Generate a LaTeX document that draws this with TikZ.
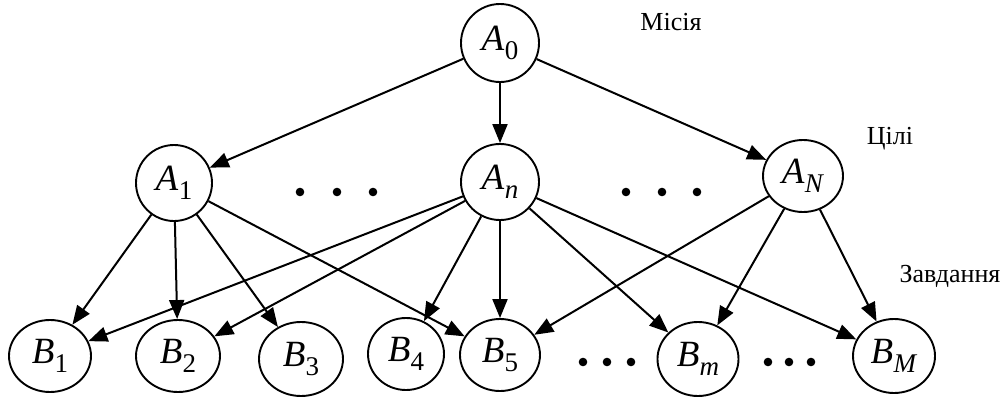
\documentclass[tikz,border=0pt]{standalone}
\usepackage{fontspec}
\setmainfont{Liberation Serif}
\usetikzlibrary{arrows.meta,shapes.geometric}
\newcommand\lbl[2]{\textit{#1}\kern0.01em\raisebox{-0.24em}{\fontsize{27}{27}\selectfont #2}}
\tikzset{
  vert/.style={draw,ellipse,line width=1.9pt,inner sep=0pt,font=\fontsize{37}{37}\selectfont},
  edge/.style={line width=2pt,-{Triangle[length=19pt,width=15pt]}},
  level/.style={font=\fontsize{26}{26}\selectfont,inner sep=0pt},
  dotmark/.style={fill=black}
}
\begin{document}
\begin{tikzpicture}[x=1pt,y=-1pt]
\useasboundingbox (0,0) rectangle (1002,399);
% top
\node[vert,minimum width=78pt,minimum height=78pt] (A0) at (500,43) {\lbl{A}{0}};
% middle
\node[vert,minimum width=76pt,minimum height=76pt] (A1) at (174,183) {\lbl{A}{1}};
\node[vert,minimum width=78pt,minimum height=76pt] (An) at (500,182) {\lbl{A}{\textit{n}}};
\node[vert,minimum width=80pt,minimum height=72pt] (AN) at (803,176) {\lbl{A}{\textit{N}}};
% bottom
\node[vert,minimum width=82pt,minimum height=72pt] (B1) at (50,356) {\lbl{B}{1}};
\node[vert,minimum width=84pt,minimum height=72pt] (B2) at (178,356) {\lbl{B}{2}};
\node[vert,minimum width=84pt,minimum height=74pt] (B3) at (301,359) {\lbl{B}{3}};
\node[vert,minimum width=76pt,minimum height=72pt] (B4) at (406,354) {\lbl{B}{4}};
\node[vert,minimum width=80pt,minimum height=72pt] (B5) at (500,355) {\lbl{B}{5}};
\node[vert,minimum width=81pt,minimum height=74pt] (Bm) at (698,359) {\lbl{B}{\textit{m}}};
\node[vert,minimum width=82pt,minimum height=74pt] (BM) at (894,356) {\lbl{B}{\textit{M}}};
% dots
\foreach \x in {300,337,373,626,662,697} \fill[dotmark] (\x,192) circle (4.3pt);
\foreach \x in {583,607,631,768,789,811} \fill[dotmark] (\x,362) circle (4.3pt);
% labels
\node[level] (L1) at (671,22) {Місія};
\node[level] (L2) at (890,139) {Цілі};
\node[level] (L3) at (950,276) {Завдання};
% edges
\draw[edge] (A0) -- (A1);
\draw[edge] (A0) -- (An);
\draw[edge] (A0) -- (AN);
\draw[edge] (A1) -- (B1);
\draw[edge] (A1) -- (B2);
\draw[edge] (A1) -- (B3);
\draw[edge] (A1) -- (B5);
\draw[edge] (An) -- (B1);
\draw[edge] (An) -- (B2);
\draw[edge] (An) -- (B4);
\draw[edge] (An) -- (B5);
\draw[edge] (An) -- (Bm);
\draw[edge] (An) -- (BM);
\draw[edge] (AN) -- (B5);
\draw[edge] (AN) -- (Bm);
\draw[edge] (AN) -- (BM);
\end{tikzpicture}
\end{document}
